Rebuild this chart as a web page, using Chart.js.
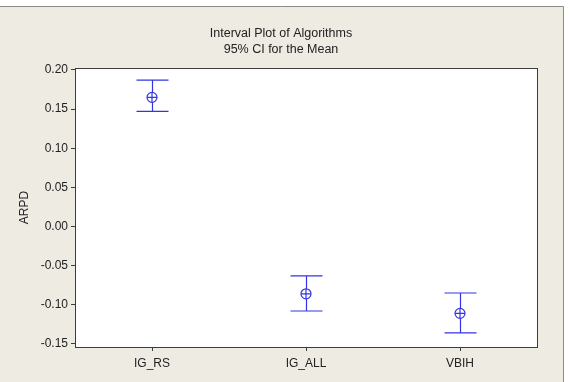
<!DOCTYPE html>
<html>
<head>
<meta charset="utf-8">
<script src="https://cdn.jsdelivr.net/npm/chart.js@4/dist/chart.umd.min.js"></script>
<style>
  html, body { margin:0; padding:0; background:#fff; }
  #wrap { width:570px; height:382px; position:relative; }
</style>
</head>
<body>
<div id="wrap"><canvas id="c" width="570" height="382"></canvas></div>
<script>
// ============ DATA ============
const categories = ['IG_RS', 'IG_ALL', 'VBIH'];
const means = [0.165, -0.086, -0.111];
const upper = [0.187, -0.063, -0.085];
const lower = [0.147, -0.108, -0.136];
const yTicks = [-0.15, -0.10, -0.05, 0.00, 0.05, 0.10, 0.15, 0.20];

const BLUE = '#3434e6';
const FRAME = '#3c3c3c';
const FONT = "'Liberation Sans', Arial, sans-serif";

// ============ PLUGINS ============
const backdrop = {
  id: 'backdrop',
  beforeDraw(chart) {
    const {ctx, chartArea: a} = chart;
    ctx.save();
    ctx.fillStyle = '#ffffff';
    ctx.fillRect(0, 0, chart.width, chart.height);
    ctx.fillStyle = '#eeebe3';
    ctx.fillRect(0, 6, 563, chart.height - 6);
    ctx.strokeStyle = '#8a8a8a';
    ctx.lineWidth = 1;
    ctx.beginPath();
    ctx.moveTo(0, 6.5); ctx.lineTo(563.5, 6.5); ctx.lineTo(563.5, chart.height);
    ctx.stroke();
    ctx.fillStyle = '#ffffff';
    ctx.fillRect(a.left, a.top, a.right - a.left, a.bottom - a.top);
    ctx.restore();
  },
  afterDraw(chart) {
    const {ctx, chartArea: a} = chart;
    ctx.save();
    ctx.strokeStyle = FRAME;
    ctx.lineWidth = 1;
    ctx.strokeRect(Math.round(a.left) + 0.5, Math.round(a.top) + 0.5,
      Math.round(a.right - a.left), Math.round(a.bottom - a.top));
    ctx.restore();
  }
};

const errorBars = {
  id: 'errorBars',
  afterDatasetsDraw(chart) {
    const {ctx, scales: {x, y}} = chart;
    ctx.save();
    ctx.strokeStyle = BLUE;
    ctx.lineWidth = 1.2;
    categories.forEach((c, i) => {
      const px = Math.round(x.getPixelForValue(i)) + 0.5;
      const yt = y.getPixelForValue(upper[i]);
      const yb = y.getPixelForValue(lower[i]);
      const ym = y.getPixelForValue(means[i]);
      ctx.beginPath();
      ctx.moveTo(px, yt); ctx.lineTo(px, ym - 5);
      ctx.moveTo(px, ym + 5); ctx.lineTo(px, yb);
      ctx.moveTo(px - 16, yt); ctx.lineTo(px + 16, yt);
      ctx.moveTo(px - 16, yb); ctx.lineTo(px + 16, yb);
      ctx.stroke();
    });
    ctx.restore();
  }
};

// ============ CHART ============
const pts = means.map((m, i) => ({x: i, y: m}));

new Chart(document.getElementById('c'), {
  type: 'scatter',
  data: {
    datasets: [
      {data: pts, pointStyle: 'circle', radius: 5, borderColor: BLUE, backgroundColor: 'rgba(0,0,0,0)', borderWidth: 1.2},
      {data: pts, pointStyle: 'cross', radius: 5, borderColor: BLUE, borderWidth: 1.2}
    ]
  },
  plugins: [backdrop, errorBars],
  options: {
    responsive: false,
    animation: false,
    layout: {padding: {left: 0, right: 8, top: 0, bottom: 0}},
    plugins: {
      legend: {display: false},
      tooltip: {enabled: false},
      title: {
        display: true,
        text: ['Interval Plot of Algorithms', '95% CI for the Mean'],
        color: '#222',
        font: {family: FONT, size: 12.5, weight: 'normal', lineHeight: 15.5 / 12.5},
        padding: {top: 26, bottom: 11}
      }
    },
    scales: {
      x: {
        type: 'linear',
        min: -0.5, max: 2.5,
        afterBuildTicks: s => { s.ticks = categories.map((c, i) => ({value: i})); },
        afterFit: s => { s.height = 35; },
        ticks: {
          callback: v => categories[v],
          color: '#222', font: {family: FONT, size: 12}, padding: 5, maxRotation: 0
        },
        grid: {drawOnChartArea: false, tickLength: 4, color: FRAME},
        border: {display: false}
      },
      y: {
        min: -0.154, max: 0.2025,
        afterBuildTicks: s => { s.ticks = yTicks.map(v => ({value: v})); },
        afterFit: s => { s.width = 75; },
        ticks: {
          callback: v => v.toFixed(2),
          color: '#222', font: {family: FONT, size: 12}, padding: 3
        },
        grid: {drawOnChartArea: false, tickLength: 4, color: FRAME},
        border: {display: false},
        title: {display: true, text: 'ARPD', color: '#222', font: {family: FONT, size: 12}, padding: {top: 17, bottom: 2}}
      },
      yR: {
        position: 'right',
        afterFit: s => { s.width = 25; },
        ticks: {display: false},
        grid: {display: false},
        border: {display: false}
      }
    }
  }
});
</script>
</body>
</html>
